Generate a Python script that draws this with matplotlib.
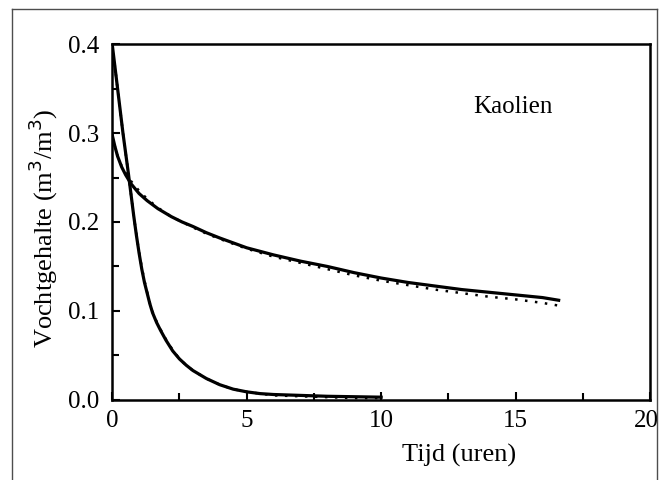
import matplotlib
matplotlib.use("Agg")
from matplotlib import pyplot as plt
from matplotlib.lines import Line2D
from matplotlib.ticker import MultipleLocator

plt.rcParams['font.family'] = ['Liberation Serif', 'DejaVu Serif']

# fast drying curve: model (solid) and measured (dotted)
t_fast = [0, 0.2, 0.4, 0.6, 0.8, 0.9, 1.0, 1.1, 1.2, 1.3, 1.4, 1.5, 1.65, 1.8, 2.0, 2.25, 2.5, 2.75,
          3.0, 3.5, 4.0, 4.5, 5.0, 5.5, 6.0, 7.0, 8.0, 9.0, 10.0]
v_fast = [0.400, 0.350, 0.300, 0.255, 0.207, 0.185, 0.165, 0.147, 0.132, 0.120, 0.108, 0.098, 0.087, 0.078,
          0.067, 0.055, 0.046, 0.039, 0.033, 0.024, 0.017, 0.012, 0.009, 0.007, 0.006, 0.005, 0.004, 0.0035, 0.003]
v_fast_meas = [0.400, 0.350, 0.300, 0.255, 0.207, 0.186, 0.166, 0.149, 0.134, 0.121, 0.109, 0.099, 0.088, 0.079,
               0.068, 0.056, 0.046, 0.039, 0.033, 0.024, 0.017, 0.012, 0.009, 0.007, 0.005, 0.004, 0.003, 0.002, 0.002]

# slow drying curve
t_slow = [0, 0.1, 0.2, 0.35, 0.5, 0.7, 1.0, 1.3, 1.7, 2.2, 2.6, 3.0, 3.5, 4.0, 5.0, 6.0, 7.0, 8.0,
          9.0, 10.0, 11.0, 12.0, 13.0, 14.0, 15.0, 16.0, 16.6]
v_slow = [0.298, 0.285, 0.274, 0.262, 0.253, 0.243, 0.232, 0.224, 0.215, 0.206, 0.200, 0.195, 0.188, 0.182,
          0.171, 0.163, 0.156, 0.150, 0.143, 0.137, 0.132, 0.128, 0.124, 0.121, 0.118, 0.115, 0.112]
v_slow_meas = [0.298, 0.285, 0.274, 0.263, 0.255, 0.246, 0.235, 0.226, 0.216, 0.206, 0.200, 0.194, 0.187, 0.181,
               0.170, 0.161, 0.154, 0.147, 0.140, 0.134, 0.129, 0.124, 0.120, 0.116, 0.113, 0.109, 0.106]

x_ticks = [0, 5, 10, 15, 20]
x_labels = ['0', '5', '10', '15', '20']
y_ticks = [0, 0.1, 0.2, 0.3, 0.4]
y_labels = ['0.0', '0.1', '0.2', '0.3', '0.4']

fig = plt.figure(figsize=(6.6, 4.8), dpi=100)
ax = fig.add_axes([0.170, 0.167, 0.815, 0.741])

ax.plot(t_fast, v_fast, color='black', lw=2.3)
ax.plot(t_fast, v_fast_meas, color='black', lw=1.8, ls=(0, (1, 3)))
ax.plot(t_slow, v_slow, color='black', lw=2.3)
ax.plot(t_slow, v_slow_meas, color='black', lw=1.8, ls=(0, (1, 3)))

ax.set_xlim(0, 20)
ax.set_ylim(0, 0.4)
ax.set_xticks(x_ticks)
# last label ("20") is drawn below, nudged so it stays on the page
ax.set_xticklabels(x_labels[:-1] + [''])
ax.xaxis.set_minor_locator(MultipleLocator(2.5))
ax.set_yticks(y_ticks)
ax.set_yticklabels(y_labels)
ax.yaxis.set_minor_locator(MultipleLocator(0.05))
ax.tick_params(which='both', direction='in', top=False, right=False, labelsize=18, width=1.5)
ax.tick_params(which='major', length=6)
ax.tick_params(which='minor', length=5)
ax.tick_params(axis='y', pad=9)
ax.tick_params(axis='x', pad=7)
for s in ax.spines.values():
    s.set_linewidth(1.8)

ax.annotate(x_labels[-1], xy=(x_ticks[-1], 0), xycoords=('data', 'axes fraction'),
            xytext=(-3, -7), textcoords='offset points', ha='center', va='top', fontsize=18)

ax.text(12.9, -0.155, 'Tijd (uren)', fontsize=19, ha='center', va='center',
        transform=ax.get_xaxis_transform())
ax.text(-0.128, 0.483, 'Vochtgehalte (m$^3$/m$^3$)', fontsize=19, rotation=90,
        ha='center', va='center', transform=ax.transAxes)
ax.text(14.9, 0.329, 'Kaolien', fontsize=18, ha='center', va='center')

# scanned page frame
fig.add_artist(Line2D([12 / 660, 12 / 660], [0, 1 - 9 / 480], color='0.3', lw=1))
fig.add_artist(Line2D([12 / 660, 657 / 660], [1 - 9 / 480, 1 - 9 / 480], color='0.3', lw=1))
fig.add_artist(Line2D([657 / 660, 657 / 660], [0, 1 - 9 / 480], color='0.3', lw=1))

fig.savefig('out.png', dpi=100)
